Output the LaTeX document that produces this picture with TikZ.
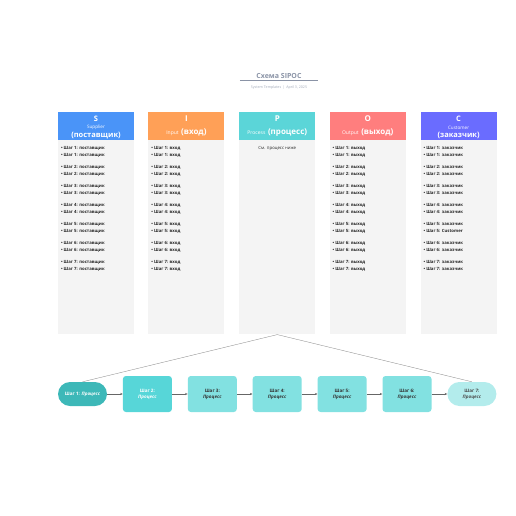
\documentclass[tikz,border=0pt]{standalone}
\usepackage{fontspec}
\setmainfont{Open Sans}
\usepackage{xcolor}
\usetikzlibrary{arrows.meta, positioning}

\definecolor{supBlue}{HTML}{4A94F8}
\definecolor{inOrange}{HTML}{FFA057}
\definecolor{procTeal}{HTML}{5BD5D8}
\definecolor{outRed}{HTML}{FF7E7E}
\definecolor{custBlue}{HTML}{6A6CFF}
\definecolor{bodyGray}{HTML}{F4F4F4}
\definecolor{stepA}{HTML}{3DB8B8}
\definecolor{stepB}{HTML}{57D6D8}
\definecolor{stepC}{HTML}{82E1E1}
\definecolor{stepD}{HTML}{B3ECEC}
\definecolor{inkGray}{HTML}{8A93A6}

\begin{document}
\begin{tikzpicture}[
  x=1pt, y=-1pt,
  head/.style={minimum width=76pt, minimum height=28pt, inner sep=0pt, text=white, align=center},
  body/.style={fill=bodyGray, minimum width=76pt, minimum height=194pt, inner sep=0pt, below=0pt of #1},
  items/.style={align=left, inner sep=0pt, text=black!85, font=\fontsize{4.3}{6.6}\selectfont\bfseries},
  pill/.style={rounded corners=12pt, minimum width=49pt, minimum height=24pt, inner sep=0pt, align=center, font=\fontsize{4.6}{6}\selectfont\bfseries},
  stepbox/.style={rounded corners=3pt, minimum width=49pt, minimum height=36pt, inner sep=0pt, align=center, font=\fontsize{4.6}{6}\selectfont\bfseries},
  flow/.style={-{Stealth[length=2.5pt, width=2.2pt]}, line width=0.6pt, draw=black!60},
  link/.style={line width=0.35pt, draw=black!45}
]
  \useasboundingbox (0,0) rectangle (516,516);

  % Title
  \node[text=inkGray, font=\fontsize{7}{8}\selectfont\bfseries, minimum width=78pt, inner sep=1.5pt] (title) at (279,76) {Схема SIPOC};
  \draw[draw=inkGray, line width=0.5pt] (title.south west) -- (title.south east);
  \node[text=inkGray!80, font=\fontsize{3.6}{4}\selectfont, below=2pt of title] (sub) {System Templates \,|\, April 3, 2025};

  % SIPOC headers
  \node[head, fill=supBlue] (sHead) at (96,126) {};
  \node[head, fill=inOrange, right=14pt of sHead] (iHead) {{\fontsize{8}{9}\selectfont\bfseries I}\\[0.5pt]{\fontsize{5}{6}\selectfont Input} {\fontsize{8}{9}\selectfont\bfseries (вход)}};
  \node[head, fill=procTeal, right=14.5pt of iHead] (pHead) {{\fontsize{8}{9}\selectfont\bfseries P}\\[0.5pt]{\fontsize{5}{6}\selectfont Process} {\fontsize{8}{9}\selectfont\bfseries (процесс)}};
  \node[head, fill=outRed, right=14pt of pHead] (oHead) {{\fontsize{8}{9}\selectfont\bfseries O}\\[0.5pt]{\fontsize{5}{6}\selectfont Output} {\fontsize{8}{9}\selectfont\bfseries (выход)}};
  \node[head, fill=custBlue, right=14.5pt of oHead] (cHead) {};
  % three-line headers, set on their own lines
  \node[text=white, font=\fontsize{7.5}{8}\selectfont\bfseries, inner sep=0pt] (sLetter) at ([yshift=-7.5pt]sHead.north) {S};
  \node[text=white, font=\fontsize{4.6}{5}\selectfont, inner sep=0pt] (sName) at ([yshift=-16pt]sHead.north) {Supplier};
  \node[text=white, font=\fontsize{7.5}{8}\selectfont\bfseries, inner sep=0pt] (sRu) at ([yshift=-23.5pt]sHead.north) {(поставщик)};
  \node[text=white, font=\fontsize{7.5}{8}\selectfont\bfseries, inner sep=0pt] (cLetter) at ([yshift=-7.5pt]cHead.north) {C};
  \node[text=white, font=\fontsize{4.6}{5}\selectfont, inner sep=0pt] (cName) at ([yshift=-16pt]cHead.north) {Customer};
  \node[text=white, font=\fontsize{7.5}{8}\selectfont\bfseries, inner sep=0pt] (cRu) at ([yshift=-23.5pt]cHead.north) {(заказчик)};

  % Column bodies
  \node[body=sHead] (sBody) {};
  \node[body=iHead] (iBody) {};
  \node[body=pHead] (pBody) {};
  \node[body=oHead] (oBody) {};
  \node[body=cHead] (cBody) {};

  % Column lists
  \node[items, below right=6pt and 3pt of sBody.north west] (sList) {%
    • Шаг 1: поставщик\\ • Шаг 1: поставщик\\[5.8pt]
    • Шаг 2: поставщик\\ • Шаг 2: поставщик\\[5.8pt]
    • Шаг 3: поставщик\\ • Шаг 3: поставщик\\[5.8pt]
    • Шаг 4: поставщик\\ • Шаг 4: поставщик\\[5.8pt]
    • Шаг 5: поставщик\\ • Шаг 5: поставщик\\[5.8pt]
    • Шаг 6: поставщик\\ • Шаг 6: поставщик\\[5.8pt]
    • Шаг 7: поставщик\\ • Шаг 7: поставщик};
  \node[items, below right=6pt and 3pt of iBody.north west] (iList) {%
    • Шаг 1: вход\\ • Шаг 1: вход\\[5.8pt]
    • Шаг 2: вход\\ • Шаг 2: вход\\[5.8pt]
    • Шаг 3: вход\\ • Шаг 3: вход\\[5.8pt]
    • Шаг 4: вход\\ • Шаг 4: вход\\[5.8pt]
    • Шаг 5: вход\\ • Шаг 5: вход\\[5.8pt]
    • Шаг 6: вход\\ • Шаг 6: вход\\[5.8pt]
    • Шаг 7: вход\\ • Шаг 7: вход};
  \node[items, font=\fontsize{4.3}{6.6}\selectfont, below=6pt of pBody.north] (pList) {См. процесс ниже};
  \node[items, below right=6pt and 3pt of oBody.north west] (oList) {%
    • Шаг 1: выход\\ • Шаг 1: выход\\[5.8pt]
    • Шаг 2: выход\\ • Шаг 2: выход\\[5.8pt]
    • Шаг 3: выход\\ • Шаг 3: выход\\[5.8pt]
    • Шаг 4: выход\\ • Шаг 4: выход\\[5.8pt]
    • Шаг 5: выход\\ • Шаг 5: выход\\[5.8pt]
    • Шаг 6: выход\\ • Шаг 6: выход\\[5.8pt]
    • Шаг 7: выход\\ • Шаг 7: выход};
  \node[items, below right=6pt and 3pt of cBody.north west] (cList) {%
    • Шаг 1: заказчик\\ • Шаг 1: заказчик\\[5.8pt]
    • Шаг 2: заказчик\\ • Шаг 2: заказчик\\[5.8pt]
    • Шаг 3: заказчик\\ • Шаг 3: заказчик\\[5.8pt]
    • Шаг 4: заказчик\\ • Шаг 4: заказчик\\[5.8pt]
    • Шаг 5: заказчик\\ • Шаг 5: Customer\\[5.8pt]
    • Шаг 6: заказчик\\ • Шаг 6: заказчик\\[5.8pt]
    • Шаг 7: заказчик\\ • Шаг 7: заказчик};

  % Process steps
  \node[pill, fill=stepA, text=white] (st1) at (82.5,394) {Шаг 1: \textit{Процесс}};
  \node[stepbox, fill=stepB, text=white, right=15.5pt of st1] (st2) {Шаг 2:\\ \textit{Процесс}};
  \node[stepbox, fill=stepC, text=black!80, right=15.5pt of st2] (st3) {Шаг 3:\\ \textit{Процесс}};
  \node[stepbox, fill=stepC, text=black!80, right=15.5pt of st3] (st4) {Шаг 4:\\ \textit{Процесс}};
  \node[stepbox, fill=stepC, text=black!80, right=15.5pt of st4] (st5) {Шаг 5:\\ \textit{Процесс}};
  \node[stepbox, fill=stepC, text=black!80, right=15.5pt of st5] (st6) {Шаг 6:\\ \textit{Процесс}};
  \node[pill, fill=stepD, text=black!70, right=15.5pt of st6] (st7) {Шаг 7:\\ \textit{Процесс}};

  \draw[flow] (st1) -- (st2);
  \draw[flow] (st2) -- (st3);
  \draw[flow] (st3) -- (st4);
  \draw[flow] (st4) -- (st5);
  \draw[flow] (st5) -- (st6);
  \draw[flow] (st6) -- (st7);

  % Zoom lines from the P column
  \draw[link] (pBody.south) -- (st1.north);
  \draw[link] (pBody.south) -- (st7.north);

\end{tikzpicture}
\end{document}
